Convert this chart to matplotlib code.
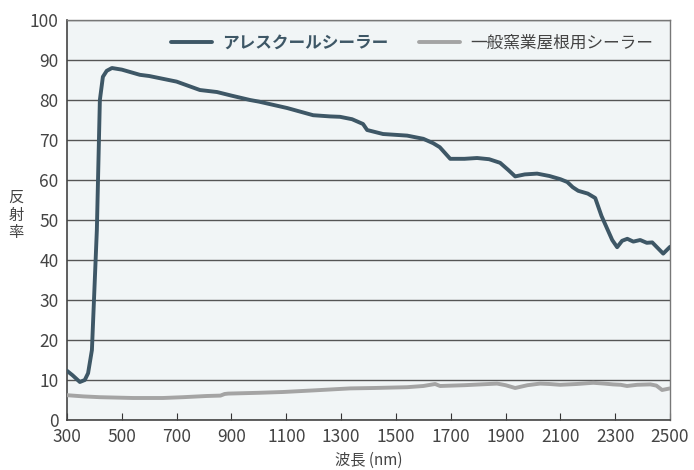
import matplotlib.pyplot as plt

plt.rcParams['font.family'] = ['Noto Sans CJK JP', 'DejaVu Sans']

# データ
ares_nm = [300, 320, 347, 365, 377, 391, 399, 409, 420, 431, 445, 464, 500, 566, 600,
           700, 785, 847, 900, 968, 1000, 1103, 1198, 1260, 1296, 1340, 1380, 1395,
           1453, 1541, 1600, 1636, 1660, 1698, 1750, 1796, 1840, 1880, 1910, 1935,
           1970, 2015, 2060, 2100, 2125, 2145, 2165, 2200, 2227, 2250, 2289, 2307,
           2325, 2344, 2366, 2391, 2415, 2435, 2455, 2475, 2500]
ares_val = [12.3, 11.2, 9.5, 10.0, 11.7, 17.5, 30.8, 47.5, 80.0, 85.8, 87.3, 88.0, 87.6,
            86.3, 86.0, 84.6, 82.5, 82.0, 81.1, 80.0, 79.6, 78.0, 76.2, 75.9, 75.8,
            75.2, 74.0, 72.5, 71.5, 71.1, 70.3, 69.2, 68.2, 65.3, 65.3, 65.5, 65.2,
            64.3, 62.5, 60.9, 61.4, 61.6, 61.0, 60.2, 59.5, 58.2, 57.3, 56.6, 55.5,
            51.0, 45.0, 43.2, 44.8, 45.3, 44.6, 45.0, 44.3, 44.4, 43.0, 41.6, 43.3]

general_nm = [300, 360, 420, 541, 650, 723, 810, 860, 875, 888, 1000, 1088, 1200, 1333,
              1420, 1541, 1600, 1643, 1661, 1750, 1869, 1900, 1935, 1980, 2026, 2060,
              2099, 2160, 2220, 2260, 2292, 2320, 2343, 2380, 2428, 2450, 2471, 2500]
general_val = [6.2, 5.9, 5.7, 5.5, 5.5, 5.7, 6.0, 6.1, 6.5, 6.6, 6.8, 7.0, 7.4, 7.9,
               8.0, 8.2, 8.5, 9.0, 8.5, 8.7, 9.1, 8.7, 8.0, 8.7, 9.1, 9.0,
               8.8, 9.0, 9.3, 9.1, 8.9, 8.8, 8.5, 8.8, 8.9, 8.6, 7.5, 7.9]

x_ticks = list(range(300, 2501, 200))
y_ticks = list(range(0, 101, 10))

fig = plt.figure(figsize=(6.94, 4.70), dpi=100)
ax = fig.add_axes([0.0965, 0.1064, 0.869, 0.851])
ax.set_facecolor('#f1f5f6')

ax.plot(ares_nm, ares_val, color='#3e5766', lw=2.8, solid_capstyle='round',
        label='アレスクールシーラー', zorder=3)
ax.plot(general_nm, general_val, color='#a4a4a4', lw=2.8, solid_capstyle='round',
        label='一般窯業屋根用シーラー', zorder=3)

ax.set_xlim(300, 2500)
ax.set_ylim(0, 100)
ax.set_xticks(x_ticks)
ax.set_yticks(y_ticks)
ax.yaxis.grid(True, color='#555555', lw=1.0)
ax.set_axisbelow(True)

ax.tick_params(axis='x', direction='in', length=5, color='#333333', labelsize=12.5,
               labelcolor='#444444', pad=6)
ax.tick_params(axis='y', length=0, labelsize=12.5, labelcolor='#444444', pad=6)

for side in ['left', 'bottom']:
    ax.spines[side].set_color('#444444')
    ax.spines[side].set_linewidth(1.2)
for side in ['top', 'right']:
    ax.spines[side].set_color('#777777')
    ax.spines[side].set_linewidth(1.0)

ax.set_xlabel('波長 (nm)', fontsize=11, color='#444444', va='center')
ax.xaxis.set_label_coords(0.5, -0.1)
fig.text(0.023, 0.542, '反\n射\n率', fontsize=11, color='#444444',
         ha='center', va='center', linespacing=1.05)

leg = ax.legend(loc='upper center', bbox_to_anchor=(0.572, 1.0), ncol=2, frameon=False,
                fontsize=12, handlelength=2.5, handletextpad=0.6, columnspacing=1.8,
                borderaxespad=0.4)
texts = leg.get_texts()
texts[0].set_fontweight('bold')
texts[0].set_color('#3e5766')
texts[1].set_color('#444444')

fig.savefig('out.png', dpi=100)
